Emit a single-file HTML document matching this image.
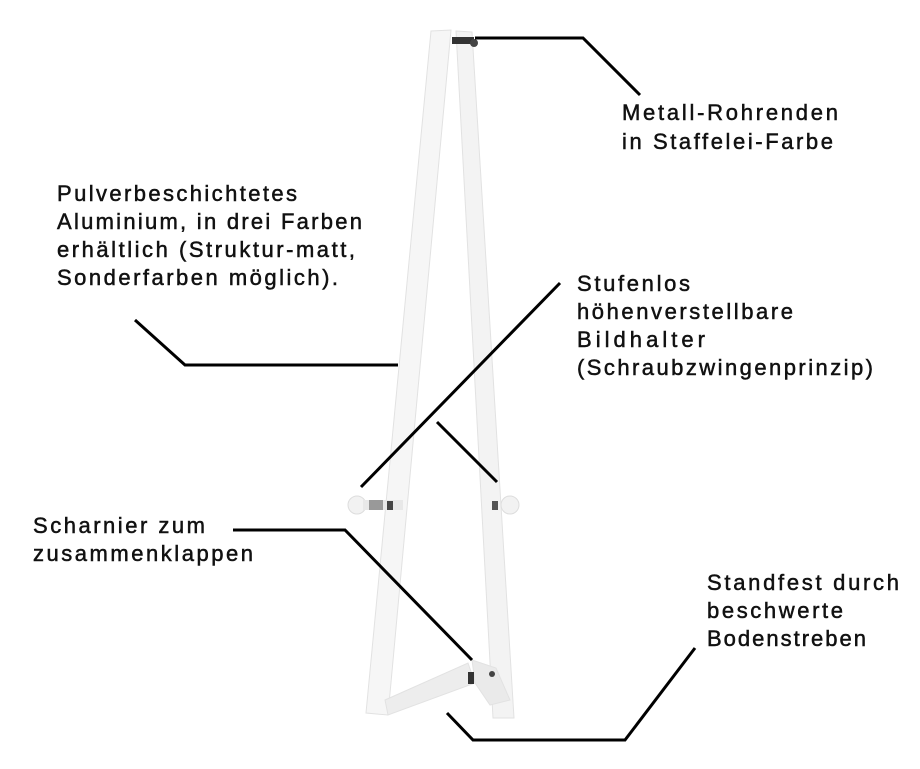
<!DOCTYPE html>
<html><head><meta charset="utf-8"><style>
html,body{margin:0;padding:0;background:#fff;width:920px;height:769px;overflow:hidden}
text{font-family:"Liberation Sans",sans-serif;font-size:22px;fill:#111;stroke:#111;stroke-width:0.5}
</style></head><body>
<svg width="920" height="769" viewBox="0 0 920 769" xmlns="http://www.w3.org/2000/svg">
<g stroke="#e2e2e2" stroke-width="1">
<polygon points="431,31 451,30 388,715 366,713" fill="#f6f6f6"/>
<polygon points="456,31 472,32 514,718 493,718" fill="#f3f3f3"/>
<polygon points="385,700 468,663 475,683 388,715" fill="#ededed"/>
<polygon points="472,660 496,668 510,700 490,705 475,683" fill="#eaeaea"/>
</g>
<rect x="452" y="37" width="22" height="7" fill="#333"/>
<circle cx="474" cy="43" r="4" fill="#444"/>
<circle cx="357" cy="505" r="9" fill="#f2f2f2" stroke="#ddd"/>
<rect x="363" y="500" width="40" height="10" fill="#e8e8e8"/>
<rect x="369" y="500" width="14" height="10" fill="#999"/>
<rect x="387" y="501" width="6" height="9" fill="#444"/>
<circle cx="510" cy="505" r="9" fill="#f2f2f2" stroke="#ddd"/>
<rect x="492" y="501" width="6" height="9" fill="#555"/>
<rect x="468" y="672" width="6" height="12" fill="#333"/>
<circle cx="492" cy="674" r="3" fill="#444"/>
<g fill="none" stroke="#000" stroke-width="3">
<polyline points="475,38 583,38 640,95"/>
<polyline points="135,320 185,365 398,365"/>
<line x1="560" y1="283" x2="361" y2="487"/>
<line x1="437" y1="422" x2="497" y2="482"/>
<polyline points="233,530 345,530 472,660"/>
<polyline points="695,648 625,740 473,740 447,713"/>
</g>
<text x="622" y="120" textLength="216">Metall-Rohrenden</text>
<text x="622" y="149" textLength="211">in Staffelei-Farbe</text>
<text x="57" y="201" textLength="240">Pulverbeschichtetes</text>
<text x="57" y="229" textLength="305">Aluminium, in drei Farben</text>
<text x="57" y="257" textLength="298">erhältlich (Struktur-matt,</text>
<text x="57" y="285" textLength="281">Sonderfarben möglich).</text>
<text x="577" y="291" textLength="113">Stufenlos</text>
<text x="577" y="319" textLength="216">höhenverstellbare</text>
<text x="577" y="347" textLength="128">Bildhalter</text>
<text x="577" y="375" textLength="296">(Schraubzwingenprinzip)</text>
<text x="33" y="533" textLength="172">Scharnier zum</text>
<text x="33" y="561" textLength="220">zusammenklappen</text>
<text x="707" y="590" textLength="192">Standfest durch</text>
<text x="707" y="618" textLength="136">beschwerte</text>
<text x="707" y="646" textLength="159">Bodenstreben</text>
</svg>
</body></html>
